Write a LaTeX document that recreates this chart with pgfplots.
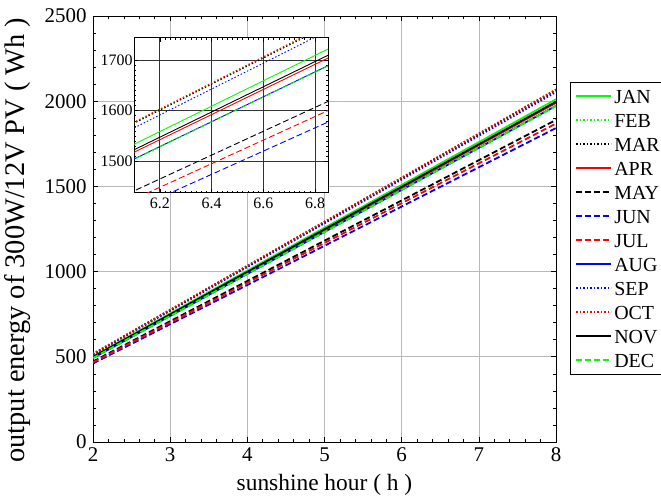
\documentclass[border=0pt]{standalone}
\usepackage{fontspec}
\setmainfont{Liberation Serif}
\usepackage{pgfplots}
\pgfplotsset{compat=1.18}
\usepackage{pgfplotstable}
\definecolor{mgreen}{rgb}{0,1,0}
\definecolor{mred}{rgb}{1,0,0}
\definecolor{mblue}{rgb}{0,0,1}

\pgfplotstableread{
x JAN FEB MAR APR MAY JUN JUL AUG SEP OCT NOV DEC
2 502.8 516.8 516.4 497.6 472.5 460.6 467.2 493.2 513.4 517.2 499.2 493.0
8 2011.2 2067.2 2065.6 1990.4 1890.0 1842.4 1868.8 1972.8 2053.6 2068.8 1996.8 1972.0
}\data

\pgfplotsset{
  msolid/.style={solid},
  mdash/.style={dash pattern=on 6bp off 3bp},
  mdot/.style={dash pattern=on 1.5bp off 2bp},
}

\newcommand{\allplots}{%
  \addplot[mgreen, msolid] table[x=x,y=JAN]{\data};
  \addplot[mgreen, mdot] table[x=x,y=FEB]{\data};
  \addplot[black, mdot] table[x=x,y=MAR]{\data};
  \addplot[mred, msolid] table[x=x,y=APR]{\data};
  \addplot[black, mdash] table[x=x,y=MAY]{\data};
  \addplot[mblue, mdash] table[x=x,y=JUN]{\data};
  \addplot[mred, mdash] table[x=x,y=JUL]{\data};
  \addplot[mblue, msolid] table[x=x,y=AUG]{\data};
  \addplot[mblue, mdot] table[x=x,y=SEP]{\data};
  \addplot[mred, mdot] table[x=x,y=OCT]{\data};
  \addplot[black, msolid] table[x=x,y=NOV]{\data};
  \addplot[mgreen, mdash] table[x=x,y=DEC]{\data};
}

\begin{document}
\begin{tikzpicture}[x=1bp,y=1bp]
\path[use as bounding box] (0,0) rectangle (661,499);
\begin{axis}[
  at={(93bp,57bp)}, anchor=south west,
  width=463bp, height=426bp, scale only axis,
  xmin=2, xmax=8, ymin=0, ymax=2500,
  xtick={2,3,...,8}, ytick={0,500,...,2500},
  minor x tick num=4, minor y tick num=4,
  grid=major, major grid style={gray!55, line width=0.6bp},
  tick align=inside, major tick length=5bp, minor tick length=3bp,
  tick style={black, line width=0.6bp},
  axis line style={line width=0.8bp},
  ticklabel style={font=\fontsize{21}{21}\selectfont},
  xticklabel style={yshift=-2bp},
  yticklabel style={xshift=-3bp},
  /pgf/number format/assume math mode=true,
  /pgf/number format/1000 sep={},
  xlabel={sunshine hour ( h )},
  ylabel={output energy of 300W/12V PV ( Wh )},
  xlabel style={font=\fontsize{23.5}{23.5}\selectfont, at={(axis description cs:0.5,-0.101)}, anchor=center},
  ylabel style={font=\fontsize{28.5}{28.5}\selectfont, at={(axis description cs:-0.162,0.474)}, anchor=center},
  every axis plot/.append style={line width=1.8bp},
  legend style={at={(1.030,0.845)}, anchor=north west, draw=black, line width=0.8bp,
    font=\fontsize{20}{20}\selectfont, row sep=6bp, inner sep=5bp,
    nodes={inner sep=2bp, text height=14bp, text depth=0bp}},
  legend cell align=left,
  legend image code/.code={\draw[#1, line width=2bp] (0bp,0bp) -- (35bp,0bp);},
]
\allplots
\legend{JAN,FEB,MAR,APR,MAY,JUN,JUL,AUG,SEP,OCT,NOV,DEC}
\end{axis}
\begin{axis}[
  at={(134bp,306bp)}, anchor=south west,
  width=194bp, height=155bp, scale only axis,
  xmin=6.1, xmax=6.85, ymin=1437, ymax=1744,
  xtick={6.2,6.4,6.6,6.8}, ytick={1500,1600,1700},
  minor x tick num=9, minor y tick num=9,
  axis background/.style={fill=white},
  grid=major, major grid style={black!80, line width=0.9bp},
  tick align=inside, major tick length=4bp, minor tick length=2bp,
  tick style={black, line width=0.5bp},
  axis line style={line width=1bp},
  ticklabel style={font=\fontsize{16}{16}\selectfont},
  xticklabel style={yshift=-1bp},
  yticklabel style={xshift=2bp},
  /pgf/number format/assume math mode=true,
  /pgf/number format/1000 sep={},
  xticklabel style={/pgf/number format/fixed, /pgf/number format/precision=1},
  every axis plot/.append style={line width=0.9bp},
  clip=true,
]
\allplots
\end{axis}
\end{tikzpicture}
\end{document}
